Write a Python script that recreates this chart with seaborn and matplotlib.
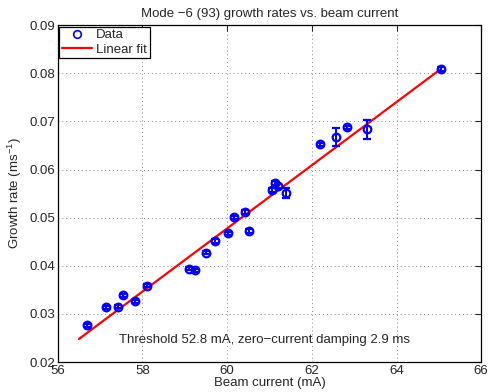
import numpy as np
import pandas as pd
import matplotlib
matplotlib.use('Agg')
import matplotlib.pyplot as plt
import seaborn as sns

# beam current (mA) and growth rate (1/ms)
current = [56.69, 57.13, 57.41, 57.55, 57.83, 58.11, 59.11, 59.25, 59.50, 59.72,
           60.02, 60.16, 60.43, 60.51, 61.07, 61.12, 61.19, 61.38, 62.19, 62.57,
           62.82, 63.31, 65.06]
growth = [0.0276, 0.0314, 0.0315, 0.0339, 0.0326, 0.0359, 0.0394, 0.0391, 0.0427, 0.0452,
          0.0468, 0.0501, 0.0511, 0.0473, 0.0558, 0.0572, 0.0566, 0.0551, 0.0653, 0.0668,
          0.0688, 0.0684, 0.0810]
growth_err = [0.0003, 0.0003, 0.0003, 0.0003, 0.0003, 0.0003, 0.0003, 0.0003, 0.0003, 0.0004,
              0.0003, 0.0003, 0.0004, 0.0004, 0.0004, 0.0004, 0.0004, 0.0010, 0.0003, 0.0018,
              0.0003, 0.0020, 0.0004]

# linear fit end points
fit_x = [56.5, 65.03]
fit_y = [0.0248, 0.0808]

sns.set_style("white")
plt.rcParams['font.family'] = ['Liberation Sans', 'DejaVu Sans']
plt.rcParams['mathtext.fontset'] = 'custom'
plt.rcParams['mathtext.rm'] = 'Liberation Sans'
plt.rcParams['mathtext.it'] = 'Liberation Sans'

fig = plt.figure(figsize=(4.9, 3.92), dpi=100)
ax = fig.add_axes([0.118, 0.0765, 0.864, 0.859])

df = pd.DataFrame({"current": current, "growth": growth, "err": growth_err})
fit = pd.DataFrame({"x": fit_x, "y": fit_y})

ax.errorbar(df["current"], df["growth"], yerr=df["err"], fmt='o', ms=5.5,
            mfc='none', mec='blue', mew=1.6, ecolor='blue', elinewidth=1.4,
            capsize=3, capthick=1.4, zorder=3)
ax.plot([], [], 'o', ms=5.5, mfc='none', mec='blue', mew=1.2, label='Data')
sns.lineplot(data=fit, x="x", y="y", color='red', linewidth=1.6, label='Linear fit', ax=ax, zorder=2)

ax.set_xlim(56, 66)
ax.set_ylim(0.02, 0.09)
ax.set_xticks(np.arange(56, 67, 2))
ax.set_yticks(np.arange(0.02, 0.0901, 0.01))
ax.set_yticklabels([f"{v:.2f}" for v in np.arange(0.02, 0.0901, 0.01)])
ax.grid(True, linestyle=(0, (1, 3)), color='#888888', linewidth=0.7)
ax.tick_params(direction='in', length=4, top=True, right=True, labelsize=9.5, pad=2)
for s in ax.spines.values():
    s.set_color('black')
    s.set_linewidth(0.9)

ax.set_title("Mode \u22126 (93) growth rates vs. beam current", fontsize=9.5, pad=6)
ax.set_xlabel("Beam current (mA)", fontsize=9.5, labelpad=0)
ax.set_ylabel("Growth rate (ms$^{\u22121}$)", fontsize=9.5, labelpad=4)

ax.text(57.44, 0.0246, "Threshold 52.8 mA, zero\u2212current damping 2.9 ms",
        fontsize=9.5, va='center', ha='left')

leg = ax.legend(loc='upper left', fontsize=9.5, frameon=True, fancybox=False,
                borderaxespad=0.1, handlelength=2.3, borderpad=0.2, labelspacing=0.15,
                handletextpad=0.3)
leg.get_frame().set_edgecolor('black')
leg.get_frame().set_linewidth(0.9)
leg.get_frame().set_alpha(1)

fig.savefig("out.png", dpi=100)
